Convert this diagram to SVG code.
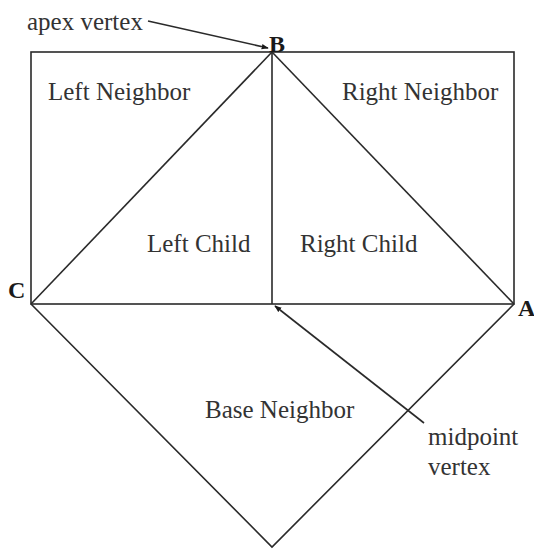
<svg xmlns="http://www.w3.org/2000/svg" width="534" height="554" viewBox="0 0 534 554">
<style>
.ln{stroke:#2a2a2a;stroke-width:1.6;fill:none}
text{font-family:'Liberation Serif','Times New Roman','DejaVu Serif',serif}
.t{font-size:25px;fill:#333}
.v{font-size:24px;font-weight:bold;fill:#1a1a1a}
</style>
<defs>
<marker id="ah" viewBox="0 0 10 10" refX="9" refY="5" markerWidth="7" markerHeight="7" markerUnits="userSpaceOnUse" orient="auto">
<path d="M0,1 L10,5 L0,9 Z" fill="#1a1a1a"/>
</marker>
</defs>
<rect width="534" height="554" fill="#fff"/>
<g id="connectors">
<rect class="ln" x="31" y="52" width="483" height="252"/>
<line class="ln" x1="272" y1="52" x2="272" y2="304"/>
<line class="ln" x1="272" y1="52" x2="31" y2="304"/>
<line class="ln" x1="272" y1="52" x2="514" y2="304"/>
<polyline class="ln" points="31,304 272,547 514,304"/>
<line class="ln" x1="148" y1="21" x2="268" y2="48" marker-end="url(#ah)"/>
<line class="ln" x1="424" y1="423" x2="275" y2="306" marker-end="url(#ah)"/>
</g>
<g id="apex-label"><text class="t" x="27" y="30" font-family="Liberation Serif, serif">apex vertex</text></g>
<g id="B"><text class="v" x="269" y="52" font-family="Liberation Serif, serif">B</text></g>
<g id="C"><text class="v" x="8" y="298" font-family="Liberation Serif, serif">C</text></g>
<g id="A"><text class="v" x="518" y="316" font-family="Liberation Serif, serif">A</text></g>
<g id="left-neighbor"><text class="t" x="48" y="100" font-family="Liberation Serif, serif">Left Neighbor</text></g>
<g id="right-neighbor"><text class="t" x="342" y="100" font-family="Liberation Serif, serif">Right Neighbor</text></g>
<g id="left-child"><text class="t" x="147" y="252" font-family="Liberation Serif, serif">Left Child</text></g>
<g id="right-child"><text class="t" x="300" y="252" font-family="Liberation Serif, serif">Right Child</text></g>
<g id="base-neighbor"><text class="t" x="205" y="418" font-family="Liberation Serif, serif">Base Neighbor</text></g>
<g id="midpoint-label"><text class="t" x="428" y="445" font-family="Liberation Serif, serif">midpoint</text><text class="t" x="428" y="475" font-family="Liberation Serif, serif">vertex</text></g>
</svg>
